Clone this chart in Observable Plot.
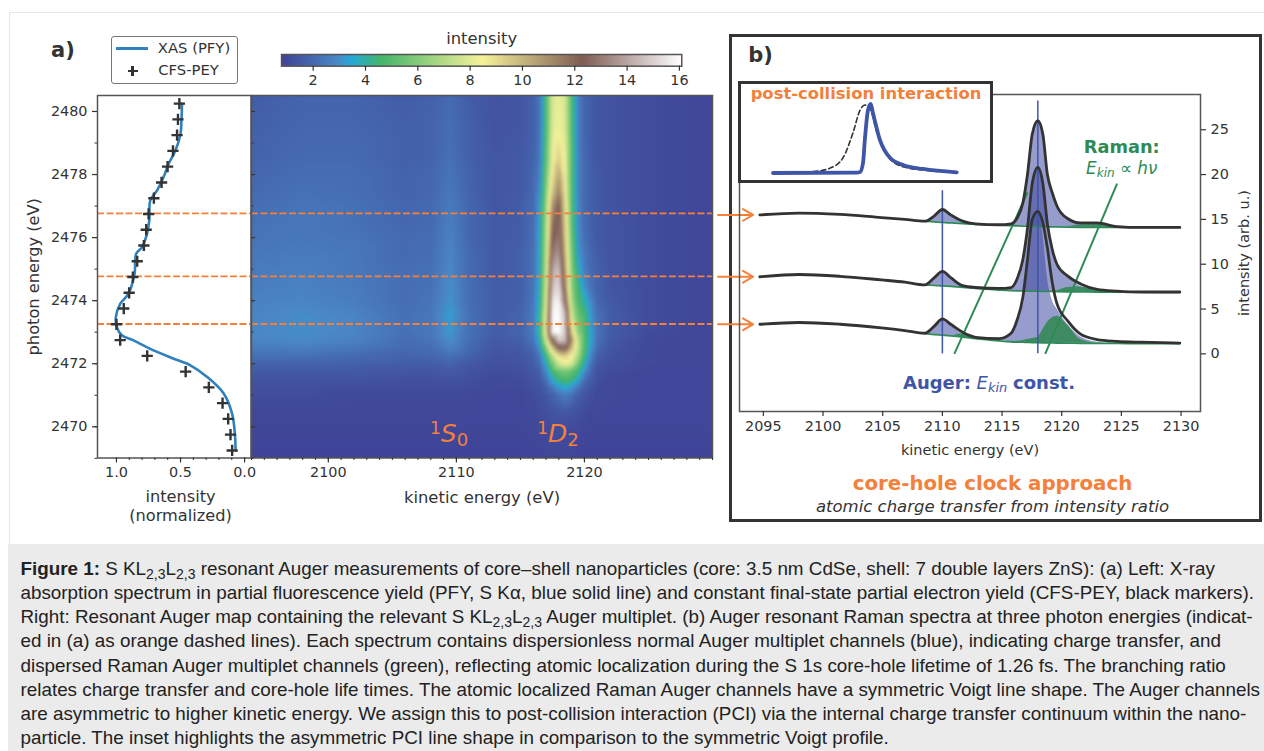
<!DOCTYPE html>
<html><head><meta charset="utf-8">
<script src="https://cdn.jsdelivr.net/npm/d3@7"></script>
<script src="https://cdn.jsdelivr.net/npm/@observablehq/plot@0.6"></script>
<style>
html,body{margin:0;padding:0;background:#fff;overflow:hidden}
#page{position:relative;width:1264px;height:751px;overflow:hidden;font-family:"DejaVu Sans";color:#333}
#page>*{position:absolute}
.n{white-space:nowrap;transform:translate(-50%,-50%);line-height:1}
sub.k{font-size:.72em;line-height:0;vertical-align:-.25em}
#cap{left:20.5px;top:556.8px;font:18.83px/24.2px "Liberation Sans";color:#222;white-space:nowrap}
#cap sub{font-size:14px;line-height:0;vertical-align:-4px}
</style></head><body><div id="page"></div>
<script>
// ---------- panel a, left: XAS / CFS-PEY ----------
const pfyEnergy=[2480.24,2479.71,2479.29,2478.76,2478.34,2477.92,2477.49,2477.18,2476.54,2476.12,2475.70,2475.49,2474.85,2474.22,2473.90,2473.48,2473.16,2472.9,2472.74,2472.47,2472.16,2471.95,2471.58,2471.05,2470.41,2469.78,2469.25];
const pfyIntensity=[.488,.493,.50,.54,.593,.632,.684,.736,.744,.762,.80,.846,.859,.906,.971,1.005,.997,.958,.867,.736,.553,.423,.292,.162,.097,.076,.07];
const cfsEnergy=[2480.25,2479.75,2479.25,2478.75,2478.25,2477.75,2477.25,2476.75,2476.25,2475.75,2475.25,2474.75,2474.25,2473.75,2473.25,2472.75,2472.25,2471.75,2471.25,2470.75,2470.25,2469.75,2469.25];
const cfsIntensity=[.509,.52,.527,.559,.601,.648,.708,.749,.768,.786,.838,.872,.901,.943,1.0,.971,.76,.46,.279,.172,.128,.11,.097];
const cutEnergies=[2476.77,2474.77,2473.26];

// ---------- panel a, right: resonant Auger map ----------
const mapKinetic=[2094,2098,2102,2106,2108,2109.5,2111,2113,2115,2116,2116.5,2117,2117.5,2118,2118.5,2119,2119.5,2120,2120.5,2121,2122,2125,2130];
const mapPhoton=[2480.5,2479.5,2478.5,2478,2477.5,2477,2476.5,2476,2475.5,2475,2474.5,2474,2473.5,2473,2472.75,2472.5,2472.25,2472,2471.75,2471.5,2471.25,2471,2470.5,2470,2469];
const mapRows=[
[1.6,1.8,1.8,1.6,1.7,2.0,1.6,1.3,1.4,1.7,2.3,4.8,7.8,8.2,7.7,4.8,2.6,1.9,1.6,1.4,1.3,1.1,.9],
[1.7,1.9,1.9,1.7,1.8,2.1,1.7,1.3,1.4,1.7,2.3,4.9,7.9,8.3,7.8,4.9,2.6,1.9,1.6,1.4,1.3,1.1,.9],
[1.8,2.0,2.0,1.7,1.8,2.2,1.7,1.4,1.5,1.8,2.4,5.2,8.3,9.4,8.2,5.0,2.7,2.0,1.6,1.4,1.3,1.1,.9],
[1.9,2.1,2.1,1.8,1.9,2.3,1.8,1.4,1.5,1.9,2.6,5.6,8.8,10.4,8.3,5.0,2.7,2.0,1.7,1.5,1.3,1.1,.9],
[2.0,2.2,2.1,1.8,1.9,2.4,1.8,1.4,1.5,1.9,2.9,6.0,9.5,11.2,8.6,5.0,2.7,2.0,1.7,1.5,1.3,1.1,.9],
[2.1,2.3,2.2,1.9,2.0,2.5,1.9,1.4,1.6,2.0,3.3,6.4,10.8,12.3,9.0,5.0,2.8,2.0,1.7,1.5,1.3,1.1,.9],
[2.2,2.4,2.2,1.9,2.0,2.6,1.9,1.5,1.6,2.1,3.4,6.7,11.6,12.7,9.2,5.2,2.9,2.1,1.7,1.5,1.4,1.1,.9],
[2.3,2.4,2.3,2.0,2.1,2.7,1.9,1.5,1.6,2.1,3.5,6.9,12.2,13.0,9.5,5.4,3.0,2.2,1.8,1.5,1.4,1.1,.9],
[2.4,2.5,2.4,2.0,2.1,2.8,2.0,1.5,1.7,2.2,3.5,7.1,13.0,13.7,9.9,5.7,3.3,2.4,1.9,1.6,1.4,1.1,.9],
[2.5,2.6,2.4,2.1,2.2,2.9,2.0,1.5,1.7,2.2,3.6,7.3,14.0,14.6,10.5,6.0,3.9,2.6,2.0,1.7,1.4,1.1,.9],
[2.6,2.7,2.5,2.1,2.2,3.0,2.1,1.6,1.7,2.3,3.7,7.6,14.6,15.2,11.2,6.2,4.4,3.0,2.2,1.8,1.4,1.1,.9],
[2.7,2.8,2.6,2.1,2.3,3.1,2.1,1.6,1.7,2.4,3.9,8.0,15.5,15.8,12.5,6.7,4.7,3.9,2.8,1.9,1.5,1.1,.9],
[2.8,3.0,2.8,2.2,2.4,3.3,2.2,1.6,1.8,2.5,4.2,8.8,16.0,16.0,14.5,7.8,5.5,4.7,3.2,2.2,1.6,1.1,.9],
[2.9,3.0,2.8,2.2,2.4,3.2,2.2,1.6,1.8,2.5,4.2,8.8,16.0,16.0,14.8,9.5,6.2,4.8,3.4,2.3,1.6,1.1,.9],
[2.8,2.9,2.7,2.1,2.3,3.0,2.1,1.5,1.7,2.3,3.8,7.6,12.5,15.0,14.6,11.0,7.2,4.9,3.4,2.2,1.5,1.0,.9],
[2.5,2.6,2.4,2.0,2.1,2.7,2.0,1.4,1.5,2.0,3.0,6.0,9.6,12.0,12.5,10.0,7.4,4.8,3.2,2.0,1.4,1.0,.9],
[2.2,2.2,2.0,1.8,1.9,2.2,1.8,1.3,1.4,1.7,2.4,4.4,7.2,9.0,9.4,8.6,6.8,4.5,2.8,1.7,1.3,1.0,.9],
[1.8,1.8,1.7,1.6,1.6,1.8,1.5,1.2,1.3,1.6,2.0,3.6,5.7,7.6,8.2,7.8,5.8,3.8,2.3,1.5,1.2,1.0,.9],
[1.5,1.5,1.5,1.4,1.4,1.5,1.3,1.1,1.2,1.4,1.7,2.8,4.6,5.3,5.7,5.2,4.5,3.0,1.9,1.3,1.1,.9,.9],
[1.3,1.3,1.3,1.2,1.2,1.3,1.2,1.0,1.1,1.3,1.5,2.2,3.6,4.5,4.7,4.5,3.6,2.2,1.6,1.2,1.0,.9,.9],
[1.2,1.2,1.1,1.1,1.1,1.1,1.1,1.0,1.0,1.2,1.3,1.7,2.4,3.2,3.6,3.2,2.4,1.7,1.4,1.1,1.0,.9,.9],
[1.1,1.1,1.0,1.0,1.0,1.0,1.0,.9,.9,1.1,1.2,1.4,1.7,2.2,2.5,2.2,1.7,1.4,1.2,1.0,1.0,.9,.9],
[.95,.95,.95,.95,.95,.95,.95,.9,.9,1.0,1.1,1.2,1.3,1.4,1.5,1.4,1.2,1.1,1.0,1.0,.9,.9,.9],
[.9,.9,.9,.9,.9,.9,.9,.9,.9,.95,1.0,1.05,1.1,1.1,1.1,1.05,1.0,.95,.9,.9,.9,.9,.9],
[.85,.85,.85,.85,.85,.85,.85,.85,.85,.85,.85,.9,.9,.9,.9,.9,.85,.85,.85,.85,.85,.85,.85]
];
const colorStops=[0.79,2.9,3.45,4.6,8.45,12.27,16.09];
const colorRamp=["#3f4296","#4a88c6","#25a8d8","#45b56a","#f6f29a","#7f5c54","#ffffff"];

// ---------- panel b: spectra ----------
const specX=[2094.7,2098,2101.42,2104.88,2106.86,2108.54,2109.33,2110,2110.7,2111.7,2112.78,2114.76,2115.75,2116.24,2116.74,2117.13,2117.53,2118,2118.42,2118.8,2119.2,2119.6,2120.49,2121.58,2122.96,2124.64,2126.62,2129.9];
const specTop=[15.5,15.7,15.55,15.2,15.0,14.8,15.4,16.1,15.5,14.8,14.5,14.4,14.5,15.1,16.8,20,24.5,26,24.5,20,18,16.5,15.1,14.6,14.6,14.2,14.1,14.1];
const specMid=[8.6,8.85,8.65,8.25,8.0,7.7,8.5,9.2,8.5,7.6,7.4,7.3,7.4,8.3,10.5,14,19,20.8,19,14.5,11.7,10,8.7,7.8,7.2,7,6.9,6.9];
const specBot=[3.3,3.5,3.3,2.9,2.6,2.3,3.1,3.9,3.3,2.4,1.85,1.7,2.3,3.7,6.3,10.5,15,15.9,14.6,11.8,8,5.6,3.7,2.2,1.6,1.4,1.3,1.2];
const fitX=specX.slice(5);
const baseTop=[14.8,14.72,14.66,14.6,14.52,14.45,14.35,14.3,14.28,14.25,14.24,14.22,14.2,14.2,14.18,14.17,14.16,14.14,14.12,14.1,14.1,14.1,14.1];
const baseMid=[7.7,7.65,7.58,7.52,7.42,7.3,7.12,7.05,7.03,7.02,7.0,7.0,7.0,6.98,6.97,6.96,6.95,6.93,6.92,6.9,6.9,6.88,6.85];
const baseBot=[2.25,2.15,2.08,2.0,1.88,1.7,1.45,1.35,1.32,1.3,1.28,1.26,1.25,1.24,1.23,1.22,1.21,1.2,1.18,1.17,1.16,1.15,1.15];
const augerTop=[14.8,15.4,16.1,15.5,14.8,14.5,14.4,14.5,15.1,16.8,20,24.5,26,24.5,20,18,16.5,15.1,14.55,14.3,14.15,14.1,14.1];
const augerMid=[7.7,8.5,9.2,8.5,7.6,7.4,7.3,7.4,8.3,10.5,14,19,20.8,19,14.5,11.7,9.9,8.6,7.5,7.0,6.9,6.88,6.85];
const augerBot=[2.3,3.1,3.9,3.3,2.1,1.7,1.45,2.3,3.7,6.3,10.5,15,15.9,13.4,8.5,6,5,3.3,1.9,1.3,1.16,1.15,1.15];
const ramanTop=[14.8,14.72,14.66,14.6,14.52,14.45,14.35,14.3,14.28,14.25,14.24,14.22,14.2,14.2,14.18,14.17,14.16,14.2,14.4,14.5,14.15,14.1,14.1];
const ramanMid=[7.7,7.65,7.58,7.52,7.5,7.32,7.12,7.05,7.03,7.02,7.0,7.0,7.0,6.98,6.97,7.0,7.05,7.4,7.45,7.05,6.9,6.88,6.85];
const ramanBot=[2.25,2.15,2.08,2.0,2.25,1.9,1.45,1.38,1.4,1.5,1.6,1.7,1.85,2.7,3.5,4.0,4.2,3.2,1.6,1.2,1.16,1.15,1.15];
const augerLines=[{x:2110,top:18.2},{x:2118,top:28.2}];
const ramanLines=[{x1:2111,x2:2117.13,y2:18},{x1:2118.62,x2:2124.64,y2:19}];
const arrowLevels=[15.5,8.6,3.3];

// ---------- inset: post-collision interaction ----------
const pciX=[0,45.6,47.4,49,50,51.7,53.2,54.4,58.2,63.7,70.8,81.7,100];
const pciY=[0,.005,.015,.145,.48,.91,1,.87,.48,.22,.116,.058,.01];
const voigtX=[0,21.8,31,38.1,43.5,47.4,50,52.8,56.6,62,70.8,85.5,100];
const voigtY=[0,.02,.07,.22,.58,.91,.985,.94,.58,.26,.09,.033,.007];

// ---------- styles ----------
const ink="#333", orange="#f5803a", blue="#3f55a8", green="#2e8b57", pfyBlue="#2f80bd";
const page=document.getElementById("page");
const svgStyle={background:"transparent",maxWidth:"none",fontFamily:"DejaVu Sans",overflow:"visible"};
function place(node,left,top,parent=page){node.style.position="absolute";node.style.left=left+"px";node.style.top=top+"px";parent.appendChild(node);return node;}
function html(s,left,top,css=""){const d=document.createElement("div");d.className="n";d.innerHTML=s;d.style.cssText=`left:${left}px;top:${top}px;${css}`;page.appendChild(d);return d;}
function box(left,top,w,h,css){const d=document.createElement("div");d.style.cssText=`left:${left}px;top:${top}px;width:${w}px;height:${h}px;box-sizing:border-box;${css}`;page.appendChild(d);return d;}
const blank=()=>"";
const colorOpt={type:"linear",domain:colorStops,range:colorRamp,clamp:true};

// page furniture
box(9,12,1255,532,"border-top:1.5px solid #e6e6e6;border-left:1.5px solid #e6e6e6");
box(7.5,544,1257,207,"background:#ebebeb");
box(728.5,33.5,533,488.5,"border:3.5px solid #333;background:#fff");

// colour bar
place(Plot.plot({
  width:412.3,height:75.7,marginLeft:6,marginRight:6,marginTop:24,marginBottom:40,
  style:svgStyle,color:colorOpt,
  x:{domain:[0.79,16.09]},
  marks:[
    Plot.barX(d3.range(0.79,16.09,0.05),{x1:d=>d,x2:d=>Math.min(d+0.15,16.09),fill:d=>d}),
    Plot.frame({stroke:"#555",strokeWidth:1.5}),
    Plot.axisX([2,4,6,8,10,12,14,16],{anchor:"bottom",tickSize:5,tickPadding:4,fontSize:14.4,color:ink,label:null,strokeWidth:1.2,tickFormat:d3.format("d")}),
    Plot.text(["intensity"],{frameAnchor:"top",dy:-22,fontSize:16.4,fill:ink})
  ]}),275,30);

// resonant Auger map
const mapPoints=mapPhoton.flatMap((y,i)=>mapKinetic.map((x,j)=>({x,y,v:mapRows[i][j]})));
place(Plot.plot({
  width:487,height:470,marginLeft:6,marginRight:20,marginTop:25,marginBottom:82.5,
  style:svgStyle,color:colorOpt,
  x:{domain:[2094,2130]},y:{domain:[2469.01,2480.507],axis:null},
  marks:[
    Plot.raster(mapPoints,{x:"x",y:"y",fill:"v",interpolate:"barycentric",pixelSize:1,blur:1}),
    Plot.ruleY(cutEnergies,{stroke:orange,strokeWidth:1.8,strokeDasharray:"7 2.5"}),
    Plot.frame({stroke:"#555",strokeWidth:1.5}),
    Plot.axisX(d3.range(2094,2131),{anchor:"bottom",tickSize:2.5,tickFormat:blank,label:null,color:ink,strokeWidth:1}),
    Plot.axisX([2100,2110,2120],{anchor:"bottom",tickSize:5,tickPadding:4,fontSize:14.4,color:ink,strokeWidth:1.2,tickFormat:d3.format("d"),label:null}),
    Plot.text(["kinetic energy (eV)"],{frameAnchor:"bottom",dy:44.5,fontSize:16.4,fill:ink})
  ]}),245,70);

// XAS panel
const pfy=pfyEnergy.map((y,i)=>({y,x:pfyIntensity[i]}));
const cfs=cfsEnergy.map((y,i)=>({y,x:cfsIntensity[i]}));
place(Plot.plot({
  width:255,height:470,marginLeft:97,marginRight:4.5,marginTop:25,marginBottom:82.5,
  style:svgStyle,
  x:{domain:[1.148,-0.05]},y:{domain:[2469.01,2480.507]},
  marks:[
    Plot.ruleY(cutEnergies,{stroke:orange,strokeWidth:1.8,strokeDasharray:"7 2.5"}),
    Plot.line(pfy,{x:"x",y:"y",stroke:pfyBlue,strokeWidth:2.6,curve:"catmull-rom"}),
    Plot.dot(cfs,{x:"x",y:"y",symbol:"plus",r:3.7,stroke:ink,strokeWidth:2.4}),
    Plot.frame({stroke:"#555",strokeWidth:1.5}),
    Plot.axisY(d3.range(2469,2481),{anchor:"left",tickSize:2.5,tickFormat:blank,label:null,color:ink,strokeWidth:1}),
    Plot.axisY([2470,2472,2474,2476,2478,2480],{anchor:"left",tickSize:5,tickPadding:5,fontSize:14.4,color:ink,strokeWidth:1.2,tickFormat:d3.format("d"),label:null}),
    Plot.text(["photon energy (eV)"],{frameAnchor:"left",textAnchor:"middle",rotate:-90,dx:-64,fontSize:16.2,fill:ink}),
    Plot.axisY(d3.range(2470,2481,2),{anchor:"right",tickSize:3.5,tickFormat:blank,label:null,color:ink,strokeWidth:1.2}),
    Plot.axisY(d3.range(2469,2481,2),{anchor:"right",tickSize:2,tickFormat:blank,label:null,color:ink,strokeWidth:1}),
    Plot.axisX(d3.range(0,1.05,0.1),{anchor:"bottom",tickSize:2.5,tickFormat:blank,label:null,color:ink,strokeWidth:1}),
    Plot.axisX([0,0.5,1],{anchor:"bottom",tickSize:5,tickPadding:4,fontSize:14.4,color:ink,strokeWidth:1.2,tickFormat:d3.format(".1f"),label:null}),
    Plot.text(["intensity\n(normalized)"],{x:0.5,frameAnchor:"bottom",dy:63,fontSize:16.2,fill:ink,lineHeight:1.17})
  ]}),0,70);

// Spectra
const tbl=(xs,ys)=>xs.map((x,i)=>({x,y:ys[i]}));
const fit=(base,top)=>fitX.map((x,i)=>({x,y1:base[i],y2:top[i]}));
place(Plot.plot({
  width:548,height:411,marginLeft:27,marginRight:60,marginTop:34,marginBottom:60,
  style:svgStyle,
  x:{domain:[2093,2131.63]},y:{domain:[-6.43,28.93]},
  marks:[
    [[baseTop,augerTop],[baseMid,augerMid],[baseBot,augerBot]].map(([b,t])=>Plot.areaY(fit(b,t),{x:"x",y1:"y1",y2:"y2",fill:"#3f4aa0",fillOpacity:.55,curve:"monotone-x"})),
    [[baseTop,ramanTop],[baseMid,ramanMid],[baseBot,ramanBot]].map(([b,t])=>Plot.areaY(fit(b,t),{x:"x",y1:"y1",y2:"y2",fill:"#3f8a62",curve:"monotone-x"})),
    [baseTop,baseMid,baseBot].map(b=>Plot.line(tbl(fitX,b),{x:"x",y:"y",stroke:green,strokeWidth:1.8,curve:"monotone-x"})),
    Plot.ruleX(augerLines,{x:"x",y1:0,y2:"top",stroke:blue,strokeWidth:1.5}),
    Plot.link(ramanLines,{x1:"x1",x2:"x2",y1:0,y2:"y2",stroke:green,strokeWidth:2}),
    [specTop,specMid,specBot].map(s=>Plot.line(tbl(specX,s),{x:"x",y:"y",stroke:ink,strokeWidth:2.8,curve:"monotone-x"})),
    Plot.arrow(arrowLevels,{x1:2091.2,x2:2094.14,y1:d=>d,y2:d=>d,stroke:orange,strokeWidth:2,headLength:9,bend:0}),
    Plot.frame({stroke:"#555",strokeWidth:1.5}),
    Plot.axisY([0,5,10,15,20,25],{anchor:"right",tickSize:5,tickPadding:5,fontSize:14.4,color:ink,strokeWidth:1.2,label:null}),
    Plot.text(["intensity (arb. u.)"],{frameAnchor:"right",textAnchor:"middle",dx:44,rotate:-90,fontSize:14.5,fill:ink}),
    Plot.axisX(d3.range(2095,2131,5),{anchor:"bottom",tickSize:5,tickPadding:4,fontSize:14.4,color:ink,strokeWidth:1.2,tickFormat:d3.format("d"),label:null}),
    Plot.text(["kinetic energy (eV)"],{frameAnchor:"bottom",dy:43,fontSize:14.5,fill:ink})
  ]}),712,60);

// Inset
const inset=box(738,81,255,102,"border:3.5px solid #333;background:#fff");
place(Plot.plot({
  width:248,height:95,marginLeft:31.5,marginRight:32.8,marginTop:19.5,marginBottom:6.5,
  style:svgStyle,
  x:{domain:[0,100],axis:null},y:{domain:[0,1],axis:null},
  marks:[
    Plot.line(tbl(voigtX,voigtY),{x:"x",y:"y",stroke:ink,strokeWidth:1.6,strokeDasharray:"5 3",curve:"monotone-x"}),
    Plot.line(tbl(pciX,pciY),{x:"x",y:"y",stroke:blue,strokeWidth:3.8,curve:"monotone-x"})
  ]}),0,0,inset);

// legend
box(110.5,36,127,47.5,"border:1.3px solid #777;border-radius:3px;background:#fff");
box(116,47,32,2.8,`background:${pfyBlue}`);
box(127.5,70.2,10,2.2,`background:${ink}`);
box(131.4,66.3,2.2,10,`background:${ink}`);
html("XAS (PFY)",194,47.5,"font-size:14.8px");
html("CFS-PEY",188.5,70,"font-size:14.8px");

// annotations
html("a)",63,50,"font-size:21px;font-weight:bold");
html("b)",760.5,54.5,"font-size:21px;font-weight:bold");
html("<sup style='font-size:.68em;line-height:0;vertical-align:.45em;font-style:normal'>1</sup><i>S</i><sub class='k'>0</sub>",449,433,`font-size:25px;color:${orange}`);
html("<sup style='font-size:.68em;line-height:0;vertical-align:.45em;font-style:normal'>1</sup><i>D</i><sub class='k'>2</sub>",558,433,`font-size:25px;color:${orange}`);
html("post-collision interaction",866,94,`font-size:16.4px;font-weight:bold;color:${orange}`);
html("Raman:",1121.7,146.7,`font-size:17.8px;font-weight:bold;color:${green}`);
html("<i>E<sub class='k'>kin</sub></i> ∝ <i>hν</i>",1121.7,168,`font-size:16.8px;color:${green}`);
html("<b>Auger:</b> <i>E<sub class='k'>kin</sub></i> <b>const.</b>",989,382.5,`font-size:18px;color:${blue}`);
html("core-hole clock approach",992.5,484,`font-size:19.8px;font-weight:bold;color:${orange}`);
html("atomic charge transfer from intensity ratio",992.5,507,`font-size:16.5px;font-style:italic;color:${ink}`);

// caption
const cap=document.createElement("div");cap.id="cap";
cap.innerHTML=`<b>Figure 1:</b> S KL<sub>2,3</sub>L<sub>2,3</sub> resonant Auger measurements of core–shell nanoparticles (core: 3.5 nm CdSe, shell: 7 double layers ZnS): (a) Left: X-ray<br>
absorption spectrum in partial fluorescence yield (PFY, S Kα, blue solid line) and constant final-state partial electron yield (CFS-PEY, black markers).<br>
Right: Resonant Auger map containing the relevant S KL<sub>2,3</sub>L<sub>2,3</sub> Auger multiplet. (b) Auger resonant Raman spectra at three photon energies (indicat-<br>
ed in (a) as orange dashed lines). Each spectrum contains dispersionless normal Auger multiplet channels (blue), indicating charge transfer, and<br>
dispersed Raman Auger multiplet channels (green), reflecting atomic localization during the S 1s core-hole lifetime of 1.26 fs. The branching ratio<br>
relates charge transfer and core-hole life times. The atomic localized Raman Auger channels have a symmetric Voigt line shape. The Auger channels<br>
are asymmetric to higher kinetic energy. We assign this to post-collision interaction (PCI) via the internal charge transfer continuum within the nano-<br>
particle. The inset highlights the asymmetric PCI line shape in comparison to the symmetric Voigt profile.`;
page.appendChild(cap);
</script></body></html>
